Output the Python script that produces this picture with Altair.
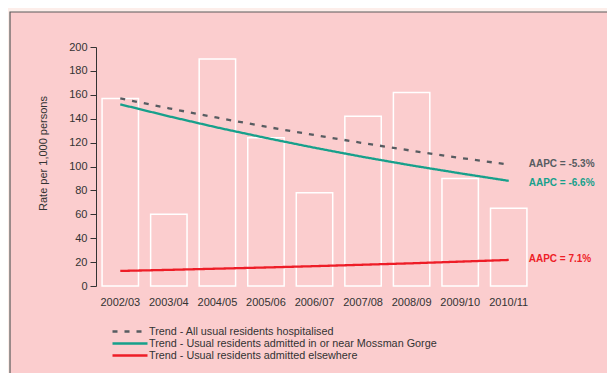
import altair as alt
import pandas as pd

years = ["2002/03", "2003/04", "2004/05", "2005/06", "2006/07",
         "2007/08", "2008/09", "2009/10", "2010/11"]
rates = [157, 60, 190, 124, 78, 142, 162, 90, 65]

series_names = [
    "Trend - All usual residents hospitalised",
    "Trend - Usual residents admitted in or near Mossman Gorge",
    "Trend - Usual residents admitted elsewhere",
]
trend_all = [157, 148.7, 140.8, 133.3, 126.3, 119.6, 113.2, 107.2, 101.6]
trend_mossman = [152, 142, 132.6, 123.9, 115.7, 108, 100.9, 94.3, 88]
trend_elsewhere = [12.6, 13.5, 14.5, 15.5, 16.6, 17.8, 19.0, 20.4, 21.8]

aapc_labels = ["AAPC = -5.3%", "AAPC = -6.6%", "AAPC = 7.1%"]
aapc_values = [102.5, 86.5, 23.0]
y_ticks = [0, 20, 40, 60, 80, 100, 120, 140, 160, 180, 200]

colors = ["#575c61", "#17a08b", "#ee1d27"]
dashes = [[5, 7], [1, 0], [1, 0]]

FONT = "Liberation Sans"
W, H = 437, 239

bars_df = pd.DataFrame({"year": years, "rate": rates})
rows = []
for name, vals in zip(series_names, [trend_all, trend_mossman, trend_elsewhere]):
    for y, v in zip(years, vals):
        rows.append({"year": y, "value": v, "series": name})
lines_df = pd.DataFrame(rows)
labels_df = pd.DataFrame({
    "year": [years[-1]] * 3,
    "value": aapc_values,
    "label": aapc_labels,
    "series": series_names,
})

x_axis = alt.Axis(title=None, labelAngle=0, domain=False, ticks=False,
                  labelPadding=10, labelFontSize=11, zindex=1,
                  labelColor="#333333", labelFont=FONT)
x_scale = alt.Scale(paddingInner=0.25, paddingOuter=0.125)
y_axis = alt.Axis(title="Rate per 1,000 persons", values=y_ticks, tickCount=11,
                  grid=False, tickSize=6, tickColor="#333333", zindex=1,
                  domainColor="#333333", labelFontSize=11, labelOverlap=False,
                  labelColor="#333333", labelFont=FONT,
                  titleFont=FONT, titleFontSize=11, titleFontWeight="normal",
                  titleColor="#333333", titleX=-48, titleY=106, labelPadding=3)
y_scale = alt.Scale(domain=[0, 200], nice=False)

panel = alt.Chart(alt.Data(values=[{"a": 1}])).mark_rect(
    fill="#fbcdce", stroke="#5a5a5a", strokeWidth=1.2
).encode(
    x=alt.value(-86), x2=alt.value(530),
    y=alt.value(-35), y2=alt.value(400)
)

bars = alt.Chart(bars_df).mark_bar(
    fill="#fbcdce", fillOpacity=0, stroke="white", strokeWidth=1.5
).encode(
    x=alt.X("year:N", sort=years, scale=x_scale, axis=x_axis),
    y=alt.Y("rate:Q", scale=y_scale, axis=y_axis),
)

lines = alt.Chart(lines_df).mark_line(strokeWidth=2.3).encode(
    x=alt.X("year:N", sort=years, scale=x_scale, axis=x_axis),
    y=alt.Y("value:Q", scale=y_scale, axis=y_axis),
    color=alt.Color("series:N",
                    scale=alt.Scale(domain=series_names, range=colors),
                    legend=alt.Legend(title=None, orient="none", legendX=15, legendY=278,
                                      symbolType="M-1,0H6", symbolSize=100,
                                      symbolStrokeWidth=2.5, labelFontSize=10.8,
                                      labelFont=FONT, labelColor="#333333",
                                      labelLimit=400, rowPadding=0, labelOffset=25,
                                      padding=0)),
    strokeDash=alt.StrokeDash("series:N",
                              scale=alt.Scale(domain=series_names, range=dashes),
                              legend=alt.Legend(title=None)),
)

texts = alt.Chart(labels_df).mark_text(
    align="left", baseline="middle", dx=20, fontSize=10, fontWeight="bold", font=FONT
).encode(
    x=alt.X("year:N", sort=years, scale=x_scale, axis=x_axis),
    y=alt.Y("value:Q", scale=y_scale, axis=y_axis),
    text="label:N",
    color=alt.Color("series:N", scale=alt.Scale(domain=series_names, range=colors),
                    legend=None),
)

chart = alt.layer(panel, bars, lines, texts).properties(
    width=W, height=H,
    autosize=alt.AutoSizeParams(type="none"),
    padding={"left": 88, "top": 39, "right": 599 - 88 - W, "bottom": 365 - 39 - H},
    background="#fdeeea",
).configure_view(stroke=None)

chart.save("out.html", embed_options={"renderer": "svg", "actions": False})
